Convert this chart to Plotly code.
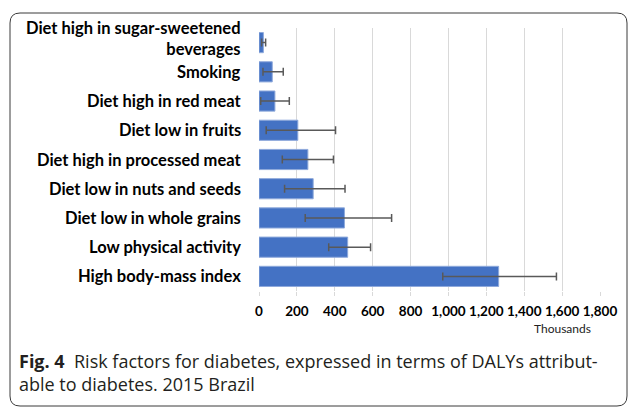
import plotly.graph_objects as go

# Risk factors, DALYs attributable to diabetes (thousands), Brazil 2015
factors = [
    "Diet high in sugar-sweetened<br>beverages",
    "Smoking",
    "Diet high in red meat",
    "Diet low in fruits",
    "Diet high in processed meat",
    "Diet low in nuts and seeds",
    "Diet low in whole grains",
    "Low physical activity",
    "High body-mass index",
]
dalys = [23, 70, 84, 205, 258, 286, 451, 468, 1265]
lower = [14, 21, 9, 38, 123, 135, 244, 368, 970]
upper = [35, 128, 160, 404, 393, 454, 700, 589, 1570]
x_ticks = [0, 200, 400, 600, 800, 1000, 1200, 1400, 1600, 1800]

W, H = 630, 409
L, R, T, B = 259, 30, 28, 118
pw, ph = W - L - R, H - T - B


def px(x):
    return (x - L) / pw


def py(y):
    return (H - B - y) / ph


fig = go.Figure()
fig.add_trace(go.Bar(
    x=dalys,
    y=factors,
    orientation="h",
    marker=dict(color="#4472C4", line=dict(color="#8EA9DB", width=1)),
    error_x=dict(
        type="data",
        symmetric=False,
        array=[u - v for u, v in zip(upper, dalys)],
        arrayminus=[v - lo for v, lo in zip(dalys, lower)],
        color="#595959",
        thickness=1.5,
        width=4,
    ),
    hoverinfo="x+y",
))

# category labels, right-aligned against the plot area
label_font = dict(family="Lato", size=16.5, color="#000000", weight="bold")
for cat in factors:
    wrapped = "<br>" in cat
    fig.add_annotation(
        text=cat, x=px(242), y=cat, xref="paper", yref="y",
        xanchor="right", yanchor="middle", align="right", showarrow=False,
        borderpad=0, yshift=4 if wrapped else 0, font=label_font,
    )

# rounded frame around chart and caption
x0, x1, y0, y1, r = px(10), px(627), py(13), py(406), 10
rx, ry = r / pw, r / ph
path = (
    f"M {x0 + rx} {y0} L {x1 - rx} {y0} Q {x1} {y0} {x1} {y0 - ry} "
    f"L {x1} {y1 + ry} Q {x1} {y1} {x1 - rx} {y1} "
    f"L {x0 + rx} {y1} Q {x0} {y1} {x0} {y1 + ry} "
    f"L {x0} {y0 - ry} Q {x0} {y0} {x0 + rx} {y0} Z"
)
fig.add_shape(type="path", path=path, xref="paper", yref="paper",
              line=dict(color="#3a3a3a", width=1), layer="below")

fig.add_annotation(
    text="Thousands", x=px(593), y=py(328), xref="paper", yref="paper",
    xanchor="right", yanchor="middle", showarrow=False,
    font=dict(family="Lato", size=12, color="#222222"),
)
fig.add_annotation(
    text="<b>Fig. 4</b>  Risk factors for diabetes, expressed in terms of DALYs attribut-"
         "<br>able to diabetes. 2015 Brazil",
    x=px(17), y=py(347), xref="paper", yref="paper",
    xanchor="left", yanchor="top", align="left", showarrow=False,
    font=dict(family="Open Sans", size=18, color="#231f20"),
)

fig.update_layout(
    width=W, height=H,
    margin=dict(l=L, r=R, t=T, b=B),
    paper_bgcolor="white", plot_bgcolor="white",
    bargap=0.31,
    showlegend=False,
    font=dict(family="Lato", color="#000000"),
    xaxis=dict(
        range=[0, 1800], tickvals=x_ticks, tickformat=",d",
        showgrid=True, gridcolor="#d9d9d9", gridwidth=1,
        zeroline=False, showline=False,
        ticks="outside", ticklen=4, tickcolor="#d9d9d9",
        ticklabelstandoff=4,
        tickfont=dict(family="Lato", size=13.5, color="#000000", weight="bold"),
    ),
    yaxis=dict(
        range=[len(factors) - 0.5, -0.5],
        categoryorder="array", categoryarray=factors,
        showgrid=False, zeroline=False, showline=False,
        ticks="", showticklabels=False,
    ),
)

fig.write_html("out.html")
